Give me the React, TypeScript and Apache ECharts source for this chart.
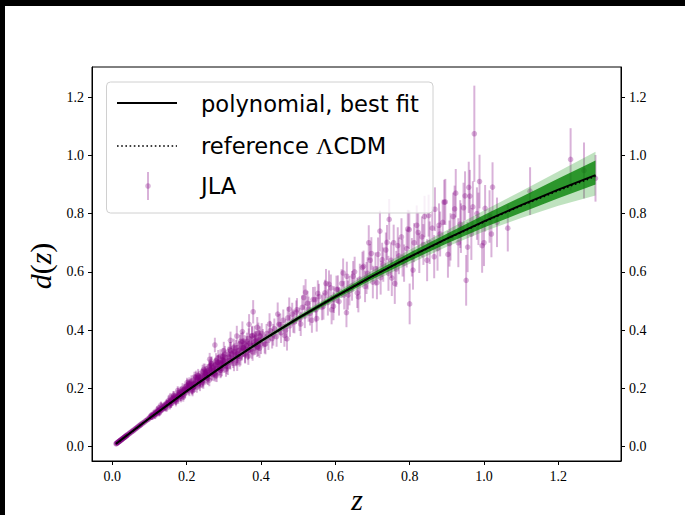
import React, { useEffect, useRef } from "react";
import * as echarts from "echarts";

const xTicks = [0, 0.2, 0.4, 0.6, 0.8, 1.0, 1.2];
const yTicks = [0, 0.2, 0.4, 0.6, 0.8, 1.0, 1.2];

const curveZ = [0.01, 0.1, 0.2, 0.3, 0.4, 0.5, 0.6, 0.7, 0.8, 0.9, 1.0, 1.1, 1.2, 1.3];
const bestFitD = [0.01, 0.0977, 0.1907, 0.279, 0.3623, 0.441, 0.5152, 0.5855, 0.6515, 0.714, 0.7735, 0.829, 0.882, 0.932];
const lcdmD = [0.01, 0.0977, 0.1907, 0.279, 0.3623, 0.441, 0.5152, 0.585, 0.6509, 0.7129, 0.7714, 0.8266, 0.8787, 0.928];
const sigma1Up = [0.001, 0.0015, 0.002, 0.003, 0.004, 0.006, 0.008, 0.011, 0.014, 0.017, 0.022, 0.028, 0.038, 0.05];
const sigma1Down = [0.001, 0.0015, 0.002, 0.003, 0.004, 0.006, 0.008, 0.011, 0.014, 0.017, 0.021, 0.026, 0.029, 0.032];
const sigma2Up = [0.0015, 0.0025, 0.0035, 0.005, 0.007, 0.01, 0.014, 0.019, 0.024, 0.029, 0.037, 0.048, 0.062, 0.08];
const sigma2Down = [0.0015, 0.0025, 0.0035, 0.005, 0.007, 0.01, 0.014, 0.019, 0.024, 0.028, 0.035, 0.044, 0.055, 0.07];

// [z, d, error]
const jlaLowZ = [
  [0.010, 0.0101, 0.003], [0.011, 0.0108, 0.003], [0.012, 0.0121, 0.003], [0.013, 0.0128, 0.003],
  [0.014, 0.0142, 0.003], [0.015, 0.0147, 0.003], [0.016, 0.0162, 0.003], [0.017, 0.0166, 0.003],
  [0.018, 0.0181, 0.003], [0.019, 0.0186, 0.003], [0.020, 0.0203, 0.003], [0.021, 0.0206, 0.003],
  [0.022, 0.0221, 0.003], [0.023, 0.0225, 0.003], [0.024, 0.0241, 0.003], [0.025, 0.0246, 0.004],
  [0.026, 0.0262, 0.004], [0.027, 0.0265, 0.004], [0.028, 0.0283, 0.004], [0.029, 0.0284, 0.004],
  [0.030, 0.0302, 0.004], [0.031, 0.0303, 0.004], [0.032, 0.0322, 0.004], [0.033, 0.0325, 0.004],
  [0.034, 0.0338, 0.004], [0.035, 0.0349, 0.004], [0.036, 0.0352, 0.004], [0.037, 0.0370, 0.004],
  [0.038, 0.0371, 0.004], [0.039, 0.0392, 0.004], [0.040, 0.0393, 0.005], [0.042, 0.0418, 0.005],
  [0.044, 0.0432, 0.005], [0.046, 0.0461, 0.005], [0.048, 0.0470, 0.005], [0.050, 0.0500, 0.005],
  [0.052, 0.0508, 0.005], [0.054, 0.0540, 0.005], [0.056, 0.0548, 0.005], [0.058, 0.0575, 0.005],
  [0.060, 0.0587, 0.006], [0.062, 0.0619, 0.006], [0.064, 0.0625, 0.006], [0.066, 0.0655, 0.006],
  [0.068, 0.0669, 0.006], [0.070, 0.0697, 0.006], [0.072, 0.0705, 0.006], [0.074, 0.0738, 0.006],
  [0.076, 0.0742, 0.007], [0.078, 0.0778, 0.007], [0.080, 0.0782, 0.007], [0.083, 0.0826, 0.007],
  [0.086, 0.0838, 0.007], [0.089, 0.0885, 0.008], [0.092, 0.0896, 0.008], [0.095, 0.0946, 0.008],
  [0.098, 0.0951, 0.008],
];

const jlaSdss = [
  [0.101, 0.1002, 0.009], [0.104, 0.1010, 0.009], [0.106, 0.1058, 0.010], [0.108, 0.1049, 0.009],
  [0.110, 0.1095, 0.010], [0.112, 0.1117, 0.010], [0.114, 0.1100, 0.010], [0.116, 0.1158, 0.011],
  [0.118, 0.1180, 0.011], [0.120, 0.1150, 0.011], [0.122, 0.1215, 0.011], [0.124, 0.1236, 0.012],
  [0.126, 0.1203, 0.012], [0.128, 0.1262, 0.012], [0.130, 0.1290, 0.012], [0.133, 0.1275, 0.012],
  [0.136, 0.1345, 0.013], [0.139, 0.1392, 0.013], [0.142, 0.1356, 0.013], [0.145, 0.1448, 0.013],
  [0.148, 0.1450, 0.014], [0.151, 0.1520, 0.014], [0.154, 0.1478, 0.014], [0.157, 0.1565, 0.014],
  [0.160, 0.1590, 0.015], [0.163, 0.1549, 0.015], [0.166, 0.1662, 0.015], [0.169, 0.1700, 0.015],
  [0.172, 0.1638, 0.016], [0.175, 0.1730, 0.016], [0.178, 0.1768, 0.016], [0.181, 0.1790, 0.016],
  [0.184, 0.1736, 0.017], [0.187, 0.1852, 0.017], [0.190, 0.1880, 0.017], [0.193, 0.1950, 0.018],
  [0.196, 0.1848, 0.018], [0.199, 0.1935, 0.018], [0.202, 0.2010, 0.018], [0.205, 0.1960, 0.019],
  [0.208, 0.2085, 0.019], [0.211, 0.2130, 0.019], [0.214, 0.2010, 0.020], [0.217, 0.2145, 0.020],
  [0.220, 0.2200, 0.020], [0.223, 0.2080, 0.020], [0.226, 0.2250, 0.021], [0.229, 0.2320, 0.021],
  [0.232, 0.2170, 0.021], [0.235, 0.2290, 0.022], [0.238, 0.2390, 0.022], [0.241, 0.2460, 0.022],
  [0.244, 0.2280, 0.022], [0.247, 0.2400, 0.023], [0.250, 0.2520, 0.023], [0.253, 0.2410, 0.023],
  [0.256, 0.2600, 0.024], [0.259, 0.2480, 0.024], [0.262, 0.2560, 0.024], [0.265, 0.2650, 0.024],
  [0.268, 0.2530, 0.025], [0.271, 0.2710, 0.025], [0.274, 0.2620, 0.025], [0.277, 0.2810, 0.025],
  [0.280, 0.2580, 0.026], [0.283, 0.2700, 0.026], [0.286, 0.2900, 0.026], [0.289, 0.2720, 0.026],
  [0.292, 0.2860, 0.027], [0.295, 0.2690, 0.027], [0.298, 0.2950, 0.027], [0.301, 0.2800, 0.027],
  [0.305, 0.3050, 0.028], [0.309, 0.2870, 0.028], [0.313, 0.3080, 0.028], [0.317, 0.2960, 0.029],
  [0.321, 0.3180, 0.029], [0.325, 0.2990, 0.029], [0.329, 0.3250, 0.030], [0.333, 0.3060, 0.030],
  [0.337, 0.3180, 0.030], [0.341, 0.3320, 0.031], [0.345, 0.3100, 0.031], [0.349, 0.3270, 0.031],
  [0.353, 0.3400, 0.032], [0.357, 0.3200, 0.032], [0.361, 0.3480, 0.032], [0.365, 0.3300, 0.033],
  [0.370, 0.3550, 0.033], [0.375, 0.3350, 0.033], [0.380, 0.3470, 0.034], [0.385, 0.3620, 0.034],
  [0.390, 0.3420, 0.034], [0.395, 0.3650, 0.035], [0.400, 0.3530, 0.035],
];

const jlaSdssScatter = [
  [0.152, 0.160, 0.015], [0.158, 0.148, 0.014], [0.165, 0.175, 0.016], [0.171, 0.158, 0.015],
  [0.177, 0.186, 0.017], [0.183, 0.180, 0.017], [0.189, 0.200, 0.018], [0.195, 0.196, 0.018],
  [0.201, 0.212, 0.019], [0.207, 0.218, 0.020], [0.213, 0.225, 0.020], [0.219, 0.205, 0.020],
  [0.225, 0.240, 0.021], [0.231, 0.245, 0.022], [0.237, 0.228, 0.022], [0.243, 0.258, 0.023],
  [0.249, 0.262, 0.023], [0.255, 0.238, 0.024], [0.261, 0.275, 0.024], [0.267, 0.285, 0.025],
  [0.273, 0.250, 0.025], [0.279, 0.295, 0.026], [0.285, 0.305, 0.027], [0.291, 0.262, 0.027],
  [0.297, 0.310, 0.028], [0.303, 0.318, 0.028], [0.311, 0.275, 0.029], [0.319, 0.330, 0.030],
  [0.327, 0.340, 0.031], [0.335, 0.318, 0.031], [0.343, 0.352, 0.032], [0.351, 0.362, 0.033],
  [0.359, 0.335, 0.033], [0.367, 0.372, 0.034], [0.376, 0.380, 0.035], [0.384, 0.350, 0.035],
  [0.393, 0.390, 0.036], [0.262, 0.300, 0.022], [0.276, 0.349, 0.025], [0.300, 0.330, 0.030],
  [0.318, 0.365, 0.030], [0.335, 0.380, 0.035], [0.350, 0.395, 0.035], [0.379, 0.463, 0.040],
  [0.368, 0.420, 0.035], [0.390, 0.410, 0.035],
];

const jlaSdssDense = [
  [0.1025, 0.1040, 0.010], [0.1075, 0.1018, 0.010], [0.1125, 0.1166, 0.011], [0.1175, 0.1133, 0.011],
  [0.1225, 0.1210, 0.011], [0.1275, 0.1187, 0.012], [0.1325, 0.1384, 0.012], [0.1375, 0.1331, 0.012],
  [0.1425, 0.1338, 0.013], [0.1475, 0.1487, 0.013], [0.1525, 0.1523, 0.013], [0.1575, 0.1480, 0.014],
  [0.1625, 0.1666, 0.014], [0.1675, 0.1602, 0.014], [0.1725, 0.1688, 0.015], [0.1775, 0.1623, 0.015],
  [0.1825, 0.1899, 0.016], [0.1875, 0.1794, 0.016], [0.1925, 0.1780, 0.016], [0.1975, 0.1975, 0.017],
  [0.2025, 0.2010, 0.017], [0.2075, 0.1915, 0.018], [0.2125, 0.2180, 0.018], [0.2175, 0.2045, 0.018],
  [0.2225, 0.2148, 0.019], [0.2275, 0.2043, 0.019], [0.2325, 0.2407, 0.020], [0.2375, 0.2242, 0.020],
  [0.2425, 0.2207, 0.020], [0.2475, 0.2451, 0.021], [0.2525, 0.2475, 0.021], [0.2575, 0.2339, 0.022],
  [0.2625, 0.2673, 0.022], [0.2675, 0.2486, 0.022], [0.2725, 0.2600, 0.023], [0.2775, 0.2463, 0.023],
  [0.2825, 0.2897, 0.024], [0.2875, 0.2680, 0.024], [0.2925, 0.2623, 0.024], [0.2975, 0.2917, 0.025],
  [0.3025, 0.2940, 0.025], [0.3075, 0.2752, 0.026], [0.3125, 0.3175, 0.026], [0.3175, 0.2907, 0.026],
  [0.3225, 0.3039, 0.027], [0.3275, 0.2861, 0.027], [0.3325, 0.3383, 0.028], [0.3375, 0.3105, 0.028],
  [0.3425, 0.3027, 0.028], [0.3475, 0.3379, 0.029], [0.3525, 0.3381, 0.029], [0.3575, 0.3152, 0.030],
  [0.3625, 0.3614, 0.030], [0.3675, 0.3325, 0.030], [0.3725, 0.3477, 0.031], [0.3775, 0.3258, 0.031],
  [0.3825, 0.3829, 0.032], [0.3875, 0.3520, 0.032], [0.3925, 0.3431, 0.032], [0.3975, 0.3802, 0.033],
  [0.105, 0.1085, 0.010], [0.115, 0.1060, 0.011], [0.125, 0.1333, 0.011], [0.135, 0.1288, 0.012],
  [0.145, 0.1492, 0.013], [0.155, 0.1407, 0.013], [0.165, 0.1769, 0.014], [0.175, 0.1710, 0.015],
  [0.185, 0.1672, 0.015], [0.195, 0.1992, 0.016], [0.205, 0.2152, 0.017], [0.215, 0.1952, 0.018],
  [0.225, 0.2380, 0.018], [0.235, 0.2270, 0.019], [0.245, 0.2189, 0.020], [0.255, 0.2567, 0.021],
  [0.265, 0.2785, 0.021], [0.275, 0.2525, 0.022], [0.285, 0.2900, 0.023], [0.295, 0.2825, 0.024],
];

const jlaSdssWide = [
  [0.121, 0.1275, 0.012], [0.126, 0.1152, 0.012], [0.131, 0.1430, 0.012], [0.141, 0.1405, 0.013],
  [0.146, 0.1322, 0.013], [0.156, 0.1706, 0.014], [0.161, 0.1632, 0.014], [0.171, 0.1534, 0.015],
  [0.176, 0.1930, 0.015], [0.186, 0.1901, 0.016], [0.191, 0.1706, 0.016], [0.201, 0.2196, 0.017],
  [0.206, 0.2101, 0.017], [0.216, 0.1910, 0.018], [0.221, 0.2394, 0.018], [0.231, 0.2363, 0.019],
  [0.236, 0.2097, 0.019], [0.246, 0.2653, 0.020], [0.251, 0.2557, 0.021], [0.261, 0.2285, 0.021],
  [0.266, 0.2849, 0.022], [0.276, 0.2795, 0.022], [0.281, 0.2448, 0.023], [0.291, 0.3104, 0.024],
  [0.296, 0.2985, 0.024], [0.306, 0.2650, 0.025], [0.316, 0.3334, 0.026], [0.326, 0.3247, 0.027],
  [0.336, 0.2880, 0.028], [0.346, 0.3614, 0.029], [0.356, 0.3527, 0.030], [0.366, 0.3110, 0.030],
  [0.376, 0.3813, 0.031], [0.386, 0.3645, 0.032], [0.396, 0.3378, 0.033],
];

const jlaSnls = [
  [0.405, 0.372, 0.032], [0.410, 0.352, 0.032], [0.415, 0.388, 0.033], [0.420, 0.365, 0.033],
  [0.425, 0.398, 0.034], [0.430, 0.371, 0.034], [0.436, 0.405, 0.035], [0.442, 0.378, 0.035],
  [0.448, 0.420, 0.036], [0.454, 0.392, 0.036], [0.460, 0.434, 0.037], [0.466, 0.400, 0.037],
  [0.472, 0.442, 0.038], [0.478, 0.415, 0.038], [0.484, 0.455, 0.039], [0.490, 0.428, 0.039],
  [0.497, 0.470, 0.040], [0.504, 0.437, 0.040], [0.511, 0.478, 0.041], [0.518, 0.448, 0.041],
  [0.525, 0.492, 0.042], [0.532, 0.458, 0.042], [0.540, 0.505, 0.043], [0.548, 0.470, 0.043],
  [0.556, 0.515, 0.044], [0.564, 0.478, 0.044], [0.572, 0.528, 0.045], [0.580, 0.495, 0.045],
  [0.588, 0.545, 0.046], [0.596, 0.505, 0.046], [0.445, 0.455, 0.040], [0.470, 0.370, 0.040],
  [0.520, 0.530, 0.045], [0.550, 0.440, 0.045], [0.575, 0.560, 0.050], [0.590, 0.470, 0.050],
  [0.603, 0.540, 0.047], [0.610, 0.498, 0.048], [0.617, 0.560, 0.049], [0.624, 0.520, 0.049],
  [0.631, 0.585, 0.050], [0.638, 0.535, 0.050], [0.645, 0.552, 0.051], [0.652, 0.600, 0.052],
  [0.659, 0.528, 0.052], [0.666, 0.575, 0.053], [0.673, 0.615, 0.054], [0.680, 0.550, 0.054],
  [0.687, 0.595, 0.055], [0.694, 0.640, 0.056], [0.701, 0.565, 0.056], [0.708, 0.610, 0.057],
  [0.715, 0.660, 0.058], [0.722, 0.580, 0.058], [0.729, 0.625, 0.059], [0.736, 0.675, 0.060],
  [0.743, 0.595, 0.060], [0.750, 0.640, 0.061], [0.757, 0.700, 0.062], [0.764, 0.610, 0.062],
  [0.771, 0.655, 0.063], [0.778, 0.720, 0.064], [0.785, 0.630, 0.064], [0.792, 0.680, 0.065],
  [0.799, 0.745, 0.066], [0.806, 0.650, 0.066], [0.630, 0.460, 0.050], [0.690, 0.700, 0.060],
  [0.745, 0.780, 0.070], [0.800, 0.490, 0.070], [0.760, 0.560, 0.070], [0.720, 0.740, 0.070],
  [0.812, 0.700, 0.067], [0.819, 0.760, 0.068], [0.826, 0.665, 0.069], [0.833, 0.720, 0.070],
  [0.840, 0.790, 0.071], [0.847, 0.640, 0.072], [0.854, 0.700, 0.073], [0.861, 0.750, 0.074],
  [0.868, 0.815, 0.075], [0.875, 0.680, 0.076], [0.882, 0.730, 0.077], [0.889, 0.770, 0.078],
  [0.896, 0.840, 0.079], [0.903, 0.660, 0.080], [0.910, 0.720, 0.081], [0.917, 0.790, 0.082],
  [0.924, 0.870, 0.083], [0.931, 0.700, 0.084], [0.938, 0.750, 0.085], [0.945, 0.820, 0.086],
  [0.952, 0.571, 0.087], [0.959, 0.890, 0.088], [0.966, 0.730, 0.089], [0.974, 1.074, 0.165],
  [0.981, 0.800, 0.090], [0.988, 0.910, 0.092], [0.995, 0.690, 0.093], [0.962, 0.860, 0.090],
];

const jlaSnlsExtra = [
  [0.402, 0.389, 0.035], [0.412, 0.352, 0.035], [0.423, 0.421, 0.037], [0.433, 0.384, 0.037],
  [0.452, 0.419, 0.038], [0.463, 0.382, 0.039], [0.476, 0.472, 0.040], [0.487, 0.431, 0.040],
  [0.495, 0.462, 0.040], [0.507, 0.421, 0.041], [0.515, 0.512, 0.042], [0.528, 0.472, 0.043],
  [0.537, 0.434, 0.043], [0.545, 0.505, 0.044], [0.553, 0.526, 0.045], [0.568, 0.482, 0.046],
  [0.583, 0.558, 0.047], [0.595, 0.482, 0.048], [0.607, 0.540, 0.048], [0.621, 0.596, 0.050],
  [0.634, 0.520, 0.050], [0.648, 0.585, 0.052], [0.662, 0.514, 0.053], [0.676, 0.619, 0.054],
  [0.684, 0.579, 0.055], [0.697, 0.663, 0.056], [0.712, 0.563, 0.057], [0.726, 0.642, 0.058],
  [0.739, 0.701, 0.060], [0.752, 0.579, 0.062], [0.768, 0.690, 0.063], [0.781, 0.648, 0.064],
  [0.795, 0.747, 0.066], [0.809, 0.606, 0.067], [0.823, 0.735, 0.069], [0.837, 0.694, 0.070],
  [0.851, 0.793, 0.072], [0.866, 0.652, 0.074], [0.879, 0.760, 0.075], [0.893, 0.839, 0.077],
  [0.907, 0.697, 0.079], [0.921, 0.816, 0.080], [0.936, 0.764, 0.082], [0.949, 0.861, 0.084],
  [0.956, 0.685, 0.086], [0.970, 0.823, 0.088], [0.985, 0.782, 0.090],
];

const jlaHst = [
  [1.003, 0.818, 0.080], [1.000, 0.700, 0.080], [1.015, 0.790, 0.090], [1.020, 0.730, 0.080],
  [1.023, 0.891, 0.085], [1.035, 0.770, 0.085], [1.064, 0.750, 0.080], [1.124, 0.877, 0.082],
  [1.233, 0.986, 0.107], [1.269, 0.948, 0.096], [1.300, 0.921, 0.080],
];

const legendLabels = ["polynomial, best fit", "reference ΛCDM", "JLA"];

const PURPLE_A = "rgba(128,0,128,0.3)";

export default function App() {
  const ref = useRef<HTMLDivElement>(null);
  useEffect(() => {
    if (!ref.current) return;
    const chart = echarts.init(ref.current, null, { renderer: "svg" });
    const jla = [...jlaLowZ, ...jlaSdss, ...jlaSdssScatter, ...jlaSdssDense, ...jlaSdssWide, ...jlaSnls, ...jlaSnlsExtra, ...jlaHst];

    const bandSeries = (up: number[], dn: number[], fill: string, z: number) => ({
      type: "custom",
      z,
      silent: true,
      clip: true,
      data: [[0, 0]],
      encode: { x: 0, y: 1 },
      renderItem: (params: any, api: any) => {
        const pts: number[][] = [];
        curveZ.forEach((zz, i) => pts.push(api.coord([zz, bestFitD[i] + up[i]])));
        for (let i = curveZ.length - 1; i >= 0; i--) pts.push(api.coord([curveZ[i], bestFitD[i] - dn[i]]));
        return { type: "polygon", shape: { points: pts }, style: { fill } };
      },
    });

    const tickFont = { fontFamily: "Liberation Serif", fontSize: 14, color: "#000" };

    const yAxisBase = {
      type: "value",
      min: -0.049,
      max: 1.303,
      splitLine: { show: false },
      axisLine: { show: true, onZero: false, lineStyle: { color: "#000", width: 1 } },
      axisTick: { show: true, inside: false, length: 4, customValues: yTicks, lineStyle: { color: "#000" } },
      axisLabel: { ...tickFont, margin: 8, customValues: yTicks, formatter: (v: number) => v.toFixed(1) },
    };

    chart.setOption({
      animation: false,
      backgroundColor: "#fff",
      grid: { left: 92, right: 64, top: 67, bottom: 54, show: true, borderColor: "#000", borderWidth: 1, backgroundColor: "transparent" },
      xAxis: {
        type: "value",
        min: -0.0546,
        max: 1.3686,
        splitLine: { show: false },
        axisLine: { show: true, onZero: false, lineStyle: { color: "#000", width: 1 } },
        axisTick: { show: true, inside: false, length: 4, customValues: xTicks, lineStyle: { color: "#000" } },
        axisLabel: { ...tickFont, margin: 8, customValues: xTicks, formatter: (v: number) => v.toFixed(1) },
      },
      yAxis: [
        { ...yAxisBase, position: "left" },
        { ...yAxisBase, position: "right" },
      ],
      series: [
        {
          type: "custom",
          name: "JLA",
          z: 2,
          silent: true,
          data: jla,
          encode: { x: 0, y: 1 },
          renderItem: (params: any, api: any) => {
            const zz = api.value(0);
            const d = api.value(1);
            const e = api.value(2);
            const top = api.coord([zz, d + e]);
            const bot = api.coord([zz, d - e]);
            const c = api.coord([zz, d]);
            return {
              type: "group",
              children: [
                { type: "line", shape: { x1: top[0], y1: top[1], x2: bot[0], y2: bot[1] }, style: { stroke: PURPLE_A, lineWidth: 2 } },
                { type: "circle", shape: { cx: c[0], cy: c[1], r: 2.8 }, style: { fill: PURPLE_A } },
              ],
            };
          },
        },
        bandSeries(sigma2Up, sigma2Down, "rgba(44,160,44,0.3)", 3),
        bandSeries(sigma1Up, sigma1Down, "rgba(0,128,0,0.77)", 4),
        {
          type: "line",
          name: "reference ΛCDM",
          z: 5,
          silent: true,
          showSymbol: false,
          data: curveZ.map((zz, i) => [zz, lcdmD[i]]),
          lineStyle: { color: "#000", width: 1.6, type: [1.6, 2.6] },
        },
        {
          type: "line",
          name: "polynomial, best fit",
          z: 6,
          silent: true,
          showSymbol: false,
          data: curveZ.map((zz, i) => [zz, bestFitD[i]]),
          lineStyle: { color: "#000", width: 2 },
        },
      ],
      graphic: [
        {
          type: "rect", z: 100,
          shape: { x: 106.5, y: 82, width: 326.5, height: 131, r: 4 },
          style: { fill: "rgba(255,255,255,0.8)", stroke: "#d0d0d0", lineWidth: 1 },
        },
        { type: "line", z: 101, shape: { x1: 117, y1: 103, x2: 177, y2: 103 }, style: { stroke: "#000", lineWidth: 2 } },
        { type: "line", z: 101, shape: { x1: 117, y1: 146, x2: 177, y2: 146 }, style: { stroke: "#000", lineWidth: 1.6, lineDash: [1.6, 2.6] } },
        { type: "line", z: 101, shape: { x1: 148, y1: 172, x2: 148, y2: 200 }, style: { stroke: PURPLE_A, lineWidth: 2 } },
        { type: "circle", z: 101, shape: { cx: 148, cy: 186, r: 2.8 }, style: { fill: PURPLE_A } },
        ...legendLabels.map((t, i) => ({
          type: "text", z: 101,
          x: 201, y: [104, 146, 186][i],
          style: {
            text: t.replace("Λ", "{g|Λ}"),
            fontFamily: "DejaVu Sans", fontSize: 22.6, fill: "#000",
            verticalAlign: "middle", align: "left",
            rich: { g: { fontFamily: "Liberation Serif", fontSize: 24, fill: "#000" } },
          },
        })),
        {
          type: "text", z: 101, x: 40, y: 266, rotation: Math.PI / 2,
          style: {
            text: "{i|d}{r|(}{i|z}{r|)}",
            align: "center", verticalAlign: "middle",
            rich: {
              i: { fontFamily: "Liberation Serif", fontStyle: "italic", fontSize: 30, fill: "#000" },
              r: { fontFamily: "Liberation Serif", fontSize: 30, fill: "#000" },
            },
          },
        },
        {
          type: "text", z: 101, x: 357, y: 499,
          style: { text: "z", fontFamily: "Liberation Serif", fontStyle: "italic", fontSize: 30, fill: "#000", align: "center", verticalAlign: "middle" },
        },
        { type: "rect", z: 200, shape: { x: 0, y: 0, width: 685, height: 6 }, style: { fill: "#000" } },
        { type: "rect", z: 200, shape: { x: 0, y: 0, width: 5, height: 515 }, style: { fill: "#000" } },
      ],
    });
    return () => chart.dispose();
  }, []);
  return <div ref={ref} style={{ position: "fixed", left: 0, top: 0, width: 685, height: 515 }} />;
}
